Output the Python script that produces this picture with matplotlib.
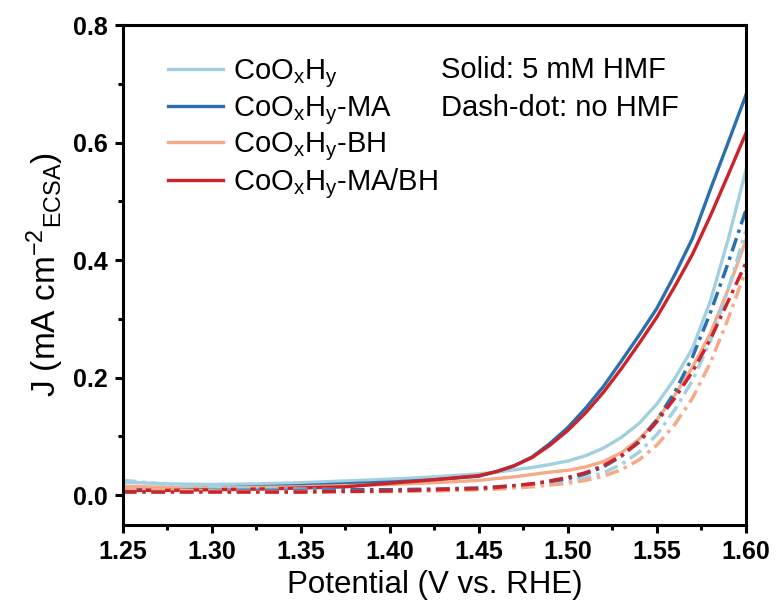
import matplotlib.pyplot as plt
from matplotlib.ticker import MultipleLocator
import numpy as np

plt.rcParams['font.family'] = ['Liberation Sans', 'DejaVu Sans']
plt.rcParams['mathtext.fontset'] = 'custom'
plt.rcParams['mathtext.rm'] = 'Liberation Sans'
plt.rcParams['mathtext.it'] = 'Liberation Sans'

# potential grid (V vs. RHE)
potential = [1.25, 1.275, 1.30, 1.325, 1.35, 1.375, 1.40, 1.425, 1.45,
             1.46, 1.47, 1.48, 1.49, 1.50, 1.51, 1.52, 1.53, 1.54,
             1.55, 1.56, 1.57, 1.58, 1.59, 1.60]

# 5 mM HMF (solid)
j_co_hmf = [0.022, 0.019, 0.018, 0.019, 0.021, 0.024, 0.027, 0.031, 0.036,
            0.039, 0.043, 0.047, 0.052, 0.058, 0.067, 0.080, 0.098, 0.122,
            0.155, 0.198, 0.250, 0.330, 0.435, 0.553]
j_ma_hmf = [0.012, 0.011, 0.012, 0.014, 0.016, 0.019, 0.022, 0.026, 0.032,
            0.040, 0.050, 0.065, 0.088, 0.115, 0.148, 0.185, 0.228, 0.272,
            0.318, 0.375, 0.437, 0.520, 0.600, 0.681]
j_bh_hmf = [0.015, 0.013, 0.012, 0.013, 0.014, 0.016, 0.018, 0.021, 0.025,
            0.028, 0.031, 0.035, 0.039, 0.042, 0.048, 0.057, 0.072, 0.095,
            0.128, 0.170, 0.218, 0.275, 0.350, 0.434]
j_mabh_hmf = [0.008, 0.008, 0.009, 0.010, 0.012, 0.014, 0.020, 0.026, 0.033,
              0.040, 0.050, 0.064, 0.085, 0.110, 0.140, 0.175, 0.215, 0.258,
              0.303, 0.355, 0.410, 0.475, 0.545, 0.616]

# no HMF (dash-dot)
j_co_blank = [0.025, 0.018, 0.013, 0.011, 0.010, 0.009, 0.009, 0.010, 0.011,
              0.012, 0.014, 0.016, 0.019, 0.023, 0.029, 0.038, 0.052, 0.073,
              0.103, 0.145, 0.195, 0.262, 0.350, 0.450]
j_ma_blank = [0.010, 0.009, 0.008, 0.008, 0.008, 0.009, 0.009, 0.010, 0.012,
              0.014, 0.016, 0.019, 0.023, 0.028, 0.036, 0.048, 0.066, 0.092,
              0.128, 0.175, 0.235, 0.310, 0.395, 0.485]
j_bh_blank = [0.012, 0.009, 0.007, 0.006, 0.006, 0.006, 0.006, 0.007, 0.009,
              0.010, 0.012, 0.014, 0.017, 0.020, 0.025, 0.032, 0.043, 0.060,
              0.085, 0.120, 0.165, 0.225, 0.300, 0.383]
j_mabh_blank = [0.005, 0.005, 0.005, 0.005, 0.005, 0.006, 0.007, 0.009, 0.011,
                0.013, 0.016, 0.019, 0.024, 0.030, 0.038, 0.050, 0.067, 0.090,
                0.125, 0.165, 0.210, 0.265, 0.330, 0.395]

labels = [r'CoO$_\mathregular{x}$H$_\mathregular{y}$',
          r'CoO$_\mathregular{x}$H$_\mathregular{y}$-MA',
          r'CoO$_\mathregular{x}$H$_\mathregular{y}$-BH',
          r'CoO$_\mathregular{x}$H$_\mathregular{y}$-MA/BH']
colors = ['#a3d0e0', '#2a70ae', '#f5aa88', '#cc2229']

solid = [j_co_hmf, j_ma_hmf, j_bh_hmf, j_mabh_hmf]
dashdot = [j_co_blank, j_ma_blank, j_bh_blank, j_mabh_blank]

fig = plt.figure(figsize=(7.77, 6.14), dpi=100)
ax = fig.add_axes([0.158, 0.145, 0.802, 0.814])

for lab, c, ys in zip(labels, colors, solid):
    ax.plot(potential, ys, color=c, lw=2.4, label=lab)
for c, ys in zip(colors, dashdot):
    ax.plot(potential, ys, color=c, lw=2.5, ls=(0, (4, 1.6, 1, 1.6)))

ax.set_xlim(1.25, 1.60)
ax.set_ylim(-0.051, 0.8)
xt = np.arange(1.25, 1.601, 0.05)
ax.set_xticks(xt)
ax.set_xticklabels([f'{v:.2f}' for v in xt])
ax.xaxis.set_minor_locator(MultipleLocator(0.025))
ax.set_yticks([0.0, 0.2, 0.4, 0.6, 0.8])
ax.set_yticklabels(['0.0', '0.2', '0.4', '0.6', '0.8'])
ax.yaxis.set_minor_locator(MultipleLocator(0.1))

for s in ax.spines.values():
    s.set_linewidth(2.2)
ax.tick_params(which='major', direction='out', length=6, width=2.2,
               labelsize=18, pad=5)
ax.tick_params(which='minor', direction='out', length=3.5, width=2.2)
for t in ax.get_xticklabels() + ax.get_yticklabels():
    t.set_fontweight('bold')

ax.set_xlabel('Potential (V vs. RHE)', fontsize=22.5, labelpad=4)
ax.set_ylabel(r'J (mA cm$^\mathregular{-2}$$_\mathregular{ECSA}$)', fontsize=24, labelpad=5)

ax.legend(loc='upper left', bbox_to_anchor=(0.072, 0.935), frameon=False,
          fontsize=21, handlelength=1.9, handletextpad=0.35, labelspacing=0.12,
          borderaxespad=0, borderpad=0)
ax.text(0.511, 0.91, 'Solid: 5 mM HMF', transform=ax.transAxes, fontsize=21,
        va='center')
ax.text(0.511, 0.835, 'Dash-dot: no HMF', transform=ax.transAxes, fontsize=21,
        va='center')

fig.savefig('out.png', dpi=100)
